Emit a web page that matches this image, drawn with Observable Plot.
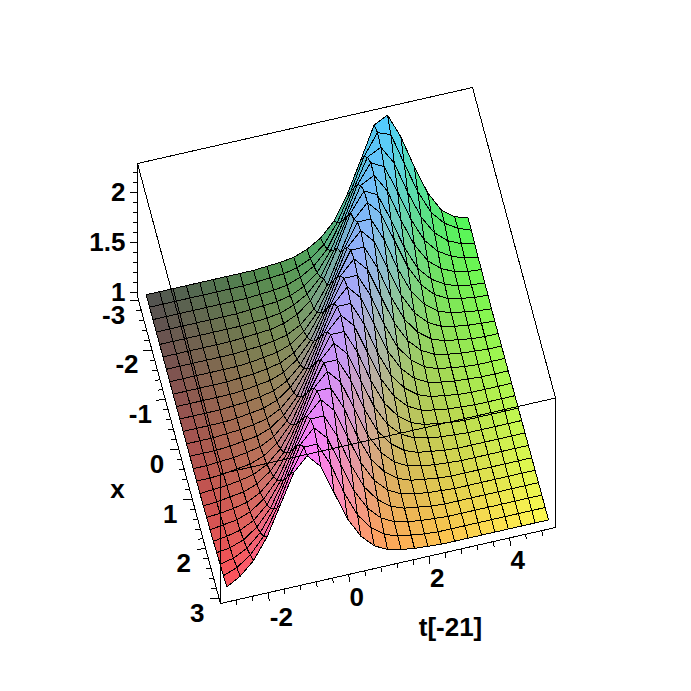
<!DOCTYPE html>
<html><head><meta charset="utf-8">
<script src="https://cdn.jsdelivr.net/npm/d3@7"></script>
<script src="https://cdn.jsdelivr.net/npm/@observablehq/plot@0.6"></script>
<style>html,body{margin:0;padding:0;background:#fff}svg{display:block}</style>
</head><body><div id="chart"></div>
<script>
const tValues = [-3,-2.667,-2.333,-2,-1.667,-1.333,-1,-0.667,-0.333,0,0.333,0.667,1,1.333,1.667,2,2.333,2.667,3,3.333,3.667,4,4.333,4.667,5];
const xValues = [-3,-2.75,-2.5,-2.25,-2,-1.75,-1.5,-1.25,-1,-0.75,-0.5,-0.25,0,0.25,0.5,0.75,1,1.25,1.5,1.75,2,2.25,2.5,2.75,3];
const zRows = [
[1,1,1,1,1,1,1,1,1,1.01,1.02,1.04,1.09,1.17,1.31,1.55,1.86,2.18,2.25,2,1.67,1.38,1.18,1.08,1.04],
[1,1,1,1,1,1,1,1,1.01,1.02,1.03,1.06,1.12,1.23,1.42,1.7,2.02,2.23,2.18,1.86,1.55,1.31,1.17,1.09,1.04],
[1,1,1,1,1,1,1,1,1.01,1.02,1.04,1.09,1.17,1.31,1.55,1.86,2.14,2.21,2.02,1.7,1.42,1.23,1.12,1.06,1.03],
[1,1,1,1,1,1,1,1.01,1.02,1.03,1.06,1.12,1.23,1.42,1.7,2.02,2.21,2.14,1.86,1.55,1.31,1.17,1.09,1.04,1.02],
[1,1,1,1,1,1,1,1.01,1.02,1.04,1.09,1.17,1.31,1.55,1.86,2.14,2.21,2.02,1.7,1.42,1.23,1.12,1.06,1.03,1.02],
[1,1,1,1,1,1,1.01,1.02,1.03,1.06,1.12,1.23,1.42,1.7,2.02,2.21,2.14,1.86,1.55,1.31,1.17,1.09,1.04,1.02,1.01],
[1,1,1,1,1,1,1.01,1.02,1.04,1.07,1.14,1.27,1.48,1.78,2.08,2.22,2.08,1.78,1.48,1.27,1.14,1.07,1.04,1.02,1.01],
[1,1,1,1,1,1,1.01,1.03,1.05,1.1,1.2,1.36,1.62,1.94,2.18,2.18,1.94,1.62,1.36,1.2,1.1,1.05,1.03,1.01,1],
[1,1,1,1,1,1.01,1.02,1.04,1.07,1.14,1.27,1.48,1.78,2.08,2.22,2.08,1.78,1.48,1.27,1.14,1.07,1.04,1.02,1.01,1],
[1,1,1,1,1,1.01,1.03,1.05,1.1,1.2,1.36,1.62,1.94,2.18,2.18,1.94,1.62,1.36,1.2,1.1,1.05,1.03,1.01,1,1],
[1,1,1,1,1.01,1.02,1.04,1.07,1.14,1.27,1.48,1.78,2.08,2.22,2.08,1.78,1.48,1.27,1.14,1.07,1.04,1.02,1.01,1,1],
[1,1,1,1,1.01,1.03,1.05,1.1,1.2,1.36,1.62,1.94,2.18,2.18,1.94,1.62,1.36,1.2,1.1,1.05,1.03,1.01,1,1,1],
[1,1,1,1.01,1.02,1.04,1.07,1.14,1.27,1.48,1.78,2.08,2.22,2.08,1.78,1.48,1.27,1.14,1.07,1.04,1.02,1.01,1,1,1],
[1,1,1,1.01,1.03,1.05,1.1,1.2,1.36,1.62,1.94,2.18,2.18,1.94,1.62,1.36,1.2,1.1,1.05,1.03,1.01,1,1,1,1],
[1,1,1.01,1.02,1.04,1.07,1.14,1.27,1.48,1.78,2.08,2.22,2.08,1.78,1.48,1.27,1.14,1.07,1.04,1.02,1.01,1,1,1,1],
[1,1,1.01,1.03,1.05,1.1,1.2,1.36,1.62,1.94,2.18,2.18,1.94,1.62,1.36,1.2,1.1,1.05,1.03,1.01,1,1,1,1,1],
[1,1.01,1.02,1.04,1.07,1.14,1.27,1.48,1.78,2.08,2.22,2.08,1.78,1.48,1.27,1.14,1.07,1.04,1.02,1.01,1,1,1,1,1],
[1,1.01,1.03,1.05,1.1,1.2,1.36,1.62,1.94,2.18,2.18,1.94,1.62,1.36,1.2,1.1,1.05,1.03,1.01,1,1,1,1,1,1],
[1.01,1.02,1.04,1.07,1.14,1.27,1.48,1.78,2.08,2.22,2.08,1.78,1.48,1.27,1.14,1.07,1.04,1.02,1.01,1,1,1,1,1,1],
[1.01,1.03,1.05,1.1,1.2,1.36,1.62,1.94,2.18,2.18,1.94,1.62,1.36,1.2,1.1,1.05,1.03,1.01,1,1,1,1,1,1,1],
[1.02,1.04,1.07,1.14,1.27,1.48,1.78,2.08,2.22,2.08,1.78,1.48,1.27,1.14,1.07,1.04,1.02,1.01,1,1,1,1,1,1,1],
[1.03,1.05,1.1,1.2,1.36,1.62,1.94,2.18,2.18,1.94,1.62,1.36,1.2,1.1,1.05,1.03,1.01,1,1,1,1,1,1,1,1],
[1.04,1.07,1.14,1.27,1.48,1.78,2.08,2.22,2.08,1.78,1.48,1.27,1.14,1.07,1.04,1.02,1.01,1,1,1,1,1,1,1,1],
[1.05,1.1,1.2,1.36,1.62,1.94,2.18,2.18,1.94,1.62,1.36,1.2,1.1,1.05,1.03,1.01,1,1,1,1,1,1,1,1,1],
[1.06,1.14,1.27,1.48,1.78,2.08,2.22,2.08,1.78,1.48,1.27,1.14,1.07,1.04,1.02,1.01,1,1,1,1,1,1,1,1,1]
];
const zMajor = [1,1.5,2];
const zMinor = [1.1,1.2,1.3,1.4,1.6,1.7,1.8,1.9,2.1,2.2];
const xMajor = [-3,-2,-1,0,1,2,3];
const xMinor = [-2.8,-2.6,-2.4,-2.2,-1.8,-1.6,-1.4,-1.2,-0.8,-0.6,-0.4,-0.2,0.2,0.4,0.6,0.8,1.2,1.4,1.6,1.8,2.2,2.4,2.6,2.8];
const tMajor = [-2,0,2,4];
const tMinor = [-2.8,-2.4,-1.6,-1.2,-0.8,-0.4,0.4,0.8,1.2,1.6,2.4,2.8,3.2,3.6,4.4,4.8];
const axisTitles = ["x","t[-21]"];

// view of the box: data ranges and the pixel vectors of its three edges
const T = [-3.19,5.14], X = [-3.08,3.1], Z = [0.96,2.29];
const O = [137,296], U = [335,-76], V = [83,307];
function proj(t,x,z){
  const a=(t-T[0])/(T[1]-T[0]), b=(x-X[0])/(X[1]-X[0]), c=(z-Z[0])/(Z[1]-Z[0]);
  return [O[0]+a*U[0]+b*V[0], O[1]+a*U[1]+b*V[1]-c*(133-3.5*b)];
}
function color(t,x,z){
  const r=80+175*(x+3)/6, g=80+170*(t+3)/8, b=80+175*(z-1)/1.22;
  return `rgb(${Math.round(r)},${Math.round(g)},${Math.round(Math.min(255,b))})`;
}
const pts=[];
for(let r=0;r<xValues.length-1;r++){
  for(let c=tValues.length-2;c>=0;c--){
    const q=[[r,c],[r,c+1],[r+1,c+1],[r+1,c],[r,c]];
    const m=q.slice(0,4).reduce((s,[i,j])=>s+zRows[i][j],0)/4;
    const col=color((tValues[c]+tValues[c+1])/2,(xValues[r]+xValues[r+1])/2,m);
    for(const [i,j] of q){
      const p=proj(tValues[j],xValues[i],zRows[i][j]);
      pts.push({cell:r*100+c,px:p[0],py:p[1],fill:col});
    }
  }
}
const corner=(a,b,c)=>proj(T[a],X[b],Z[c]);
const edges=[[[0,0,0],[0,0,1]],[[0,0,1],[1,0,1]],[[1,0,1],[1,1,1]],[[1,1,1],[1,1,0]],[[1,1,0],[0,1,0]],[[0,1,0],[0,0,0]],[[0,0,1],[0,1,1]],[[0,1,1],[1,1,1]],[[0,1,1],[0,1,0]]]
  .map(([a,b])=>({a:corner(...a),b:corner(...b)}));
const zTick=(vals,len)=>vals.map(v=>{const p=proj(T[0],X[0],v);return {a:p,b:[p[0]-len,p[1]]};});
const xTick=(vals,len)=>vals.map(v=>{const p=proj(T[0],v,Z[0]);return {a:p,b:[p[0]-len,p[1]+len*0.03]};});
const tTick=(vals,len)=>vals.map(v=>{const p=proj(v,X[1],Z[0]);return {a:p,b:[p[0]+len*0.1,p[1]+len]};});
const links=[...edges,...zTick(zMajor,8),...zTick(zMinor,5),...xTick(xMajor,9),...xTick(xMinor,5),...tTick(tMajor,8),...tTick(tMinor,5)];
const labels=[
  ...zMajor.map(v=>{const p=proj(T[0],X[0],v);return {s:String(v),x:p[0]-12,y:p[1],a:"end"};}),
  ...xMajor.map(v=>{const p=proj(T[0],v,Z[0]);return {s:String(v),x:p[0]-(v<0?25:22),y:p[1]+(v<0?15:15),a:"middle"};}),
  ...tMajor.map(v=>{const p=proj(v,X[1],Z[0]);return {s:String(v),x:p[0]+(v<0?13:8),y:p[1]+(v<0?25:23),a:"middle"};}),
  {s:axisTitles[0],x:117,y:489,a:"middle"},
  {s:axisTitles[1],x:450,y:627,a:"middle"}
];
const textOpts={x:"x",y:"y",text:"s",fontFamily:"Liberation Sans, Arial, sans-serif",fontWeight:"bold",fontSize:26,fill:"#000",lineAnchor:"middle"};
const plot=Plot.plot({
  width:691,height:691,margin:0,
  x:{type:"identity",axis:null},y:{type:"identity",axis:null},color:{type:"identity"},
  marks:[
    Plot.line(pts,{x:"px",y:"py",z:"cell",fill:"fill",stroke:"#000",strokeWidth:1,strokeLinejoin:"miter",shapeRendering:"crispEdges"}),
    Plot.link(links,{x1:d=>d.a[0],y1:d=>d.a[1],x2:d=>d.b[0],y2:d=>d.b[1],stroke:"#000",strokeWidth:1,shapeRendering:"crispEdges"}),
    Plot.text(labels.filter(d=>d.a==="end"),{...textOpts,textAnchor:"end"}),
    Plot.text(labels.filter(d=>d.a==="middle"),{...textOpts,textAnchor:"middle"})
  ]
});
document.getElementById("chart").append(plot);
</script></body></html>
